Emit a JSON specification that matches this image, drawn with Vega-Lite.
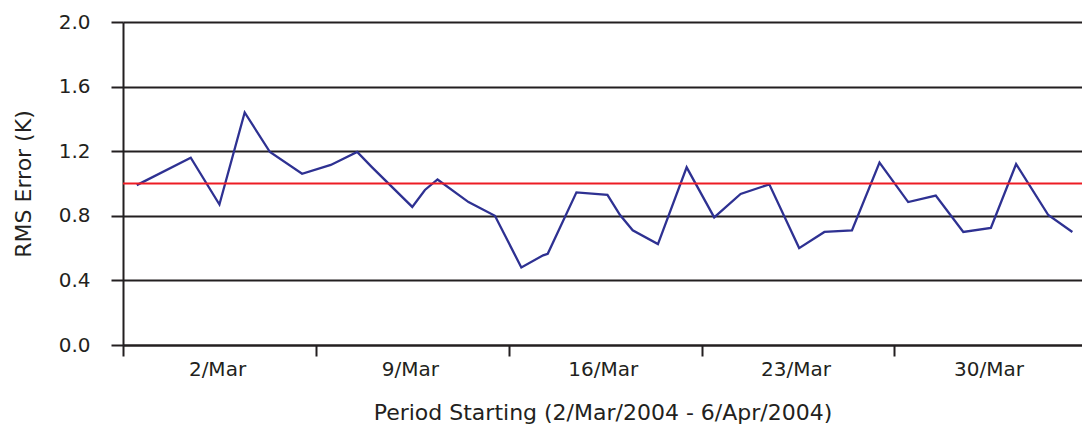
{
  "$schema": "https://vega.github.io/schema/vega-lite/v6.json",
  "width": 959,
  "height": 323,
  "autosize": {"type": "none"},
  "padding": {"left": 123, "top": 22, "right": 0, "bottom": 83},
  "config": {
    "view": {"stroke": null},
    "font": "DejaVu Sans",
    "axis": {
      "labelFont": "DejaVu Sans",
      "titleFont": "DejaVu Sans",
      "labelFontSize": 20,
      "titleFontSize": 22,
      "titleFontWeight": "normal",
      "labelColor": "#231f20",
      "titleColor": "#231f20",
      "domainColor": "#231f20",
      "domainWidth": 2,
      "tickColor": "#231f20",
      "tickWidth": 2,
      "gridColor": "#231f20",
      "gridWidth": 2,
      "gridOpacity": 1,
      "domainOpacity": 1,
      "tickOpacity": 1
    }
  },
  "layer": [
    {
      "data": {
        "values": [
          {"t": "2004-03-02T12:00", "rms": 0.99},
          {"t": "2004-03-04T11:00", "rms": 1.16},
          {"t": "2004-03-05T12:00", "rms": 0.87},
          {"t": "2004-03-06T10:00", "rms": 1.44},
          {"t": "2004-03-07T08:00", "rms": 1.195},
          {"t": "2004-03-08T12:00", "rms": 1.06},
          {"t": "2004-03-09T13:00", "rms": 1.115},
          {"t": "2004-03-10T12:00", "rms": 1.195},
          {"t": "2004-03-11T01:00", "rms": 1.10},
          {"t": "2004-03-12T12:00", "rms": 0.855},
          {"t": "2004-03-12T23:00", "rms": 0.96},
          {"t": "2004-03-13T10:00", "rms": 1.025},
          {"t": "2004-03-14T13:00", "rms": 0.885},
          {"t": "2004-03-15T12:00", "rms": 0.80},
          {"t": "2004-03-16T11:00", "rms": 0.48},
          {"t": "2004-03-17T06:00", "rms": 0.555},
          {"t": "2004-03-17T10:00", "rms": 0.565},
          {"t": "2004-03-18T11:00", "rms": 0.945},
          {"t": "2004-03-19T14:00", "rms": 0.93},
          {"t": "2004-03-20T01:00", "rms": 0.805},
          {"t": "2004-03-20T12:00", "rms": 0.71},
          {"t": "2004-03-21T10:00", "rms": 0.625},
          {"t": "2004-03-22T11:00", "rms": 1.10},
          {"t": "2004-03-23T11:00", "rms": 0.79},
          {"t": "2004-03-24T10:00", "rms": 0.935},
          {"t": "2004-03-25T11:00", "rms": 0.995},
          {"t": "2004-03-26T13:00", "rms": 0.60},
          {"t": "2004-03-27T11:00", "rms": 0.70},
          {"t": "2004-03-28T11:00", "rms": 0.71},
          {"t": "2004-03-29T11:00", "rms": 1.13},
          {"t": "2004-03-30T12:00", "rms": 0.885},
          {"t": "2004-03-31T12:00", "rms": 0.925},
          {"t": "2004-04-01T12:00", "rms": 0.70},
          {"t": "2004-04-02T12:00", "rms": 0.725},
          {"t": "2004-04-03T10:00", "rms": 1.12},
          {"t": "2004-04-04T14:00", "rms": 0.805},
          {"t": "2004-04-05T11:00", "rms": 0.70}
        ],
        "format": {"parse": {"t": "date"}}
      },
      "mark": {"type": "line", "color": "#2e3192", "strokeWidth": 2.3, "clip": true},
      "encoding": {
        "x": {
          "field": "t",
          "type": "temporal",
          "scale": {
            "domain": [
              {"year": 2004, "month": 3, "date": 2},
              {"year": 2004, "month": 4, "date": 5, "hours": 19, "minutes": 24}
            ]
          },
          "axis": {
            "title": "Period Starting (2/Mar/2004 - 6/Apr/2004)",
            "values": [
              {"year": 2004, "month": 3, "date": 2},
              {"year": 2004, "month": 3, "date": 9},
              {"year": 2004, "month": 3, "date": 16},
              {"year": 2004, "month": 3, "date": 23},
              {"year": 2004, "month": 3, "date": 30}
            ],
            "format": "%-d/%b",
            "grid": false,
            "tickSize": 11,
            "labelPadding": 3,
            "labelOffset": 94,
            "labelFlush": false,
            "labelOverlap": false,
            "labelBound": false,
            "titleBaseline": "alphabetic",
            "titleY": 74
          }
        },
        "y": {
          "field": "rms",
          "type": "quantitative",
          "scale": {"domain": [0, 2], "nice": false, "zero": true},
          "axis": {
            "title": "RMS Error (K)",
            "values": [0, 0.4, 0.8, 1.2, 1.6, 2.0],
            "format": ".1f",
            "grid": true,
            "tickSize": 12,
            "labelPadding": 21,
            "labelFlush": false,
            "labelOverlap": false,
            "titleBaseline": "alphabetic",
            "titleX": -93
          }
        }
      }
    },
    {
      "data": {"values": [{"threshold": 1.0}]},
      "mark": {"type": "rule", "color": "#ed1c24", "strokeWidth": 2},
      "encoding": {
        "y": {"field": "threshold", "type": "quantitative"}
      }
    }
  ]
}
